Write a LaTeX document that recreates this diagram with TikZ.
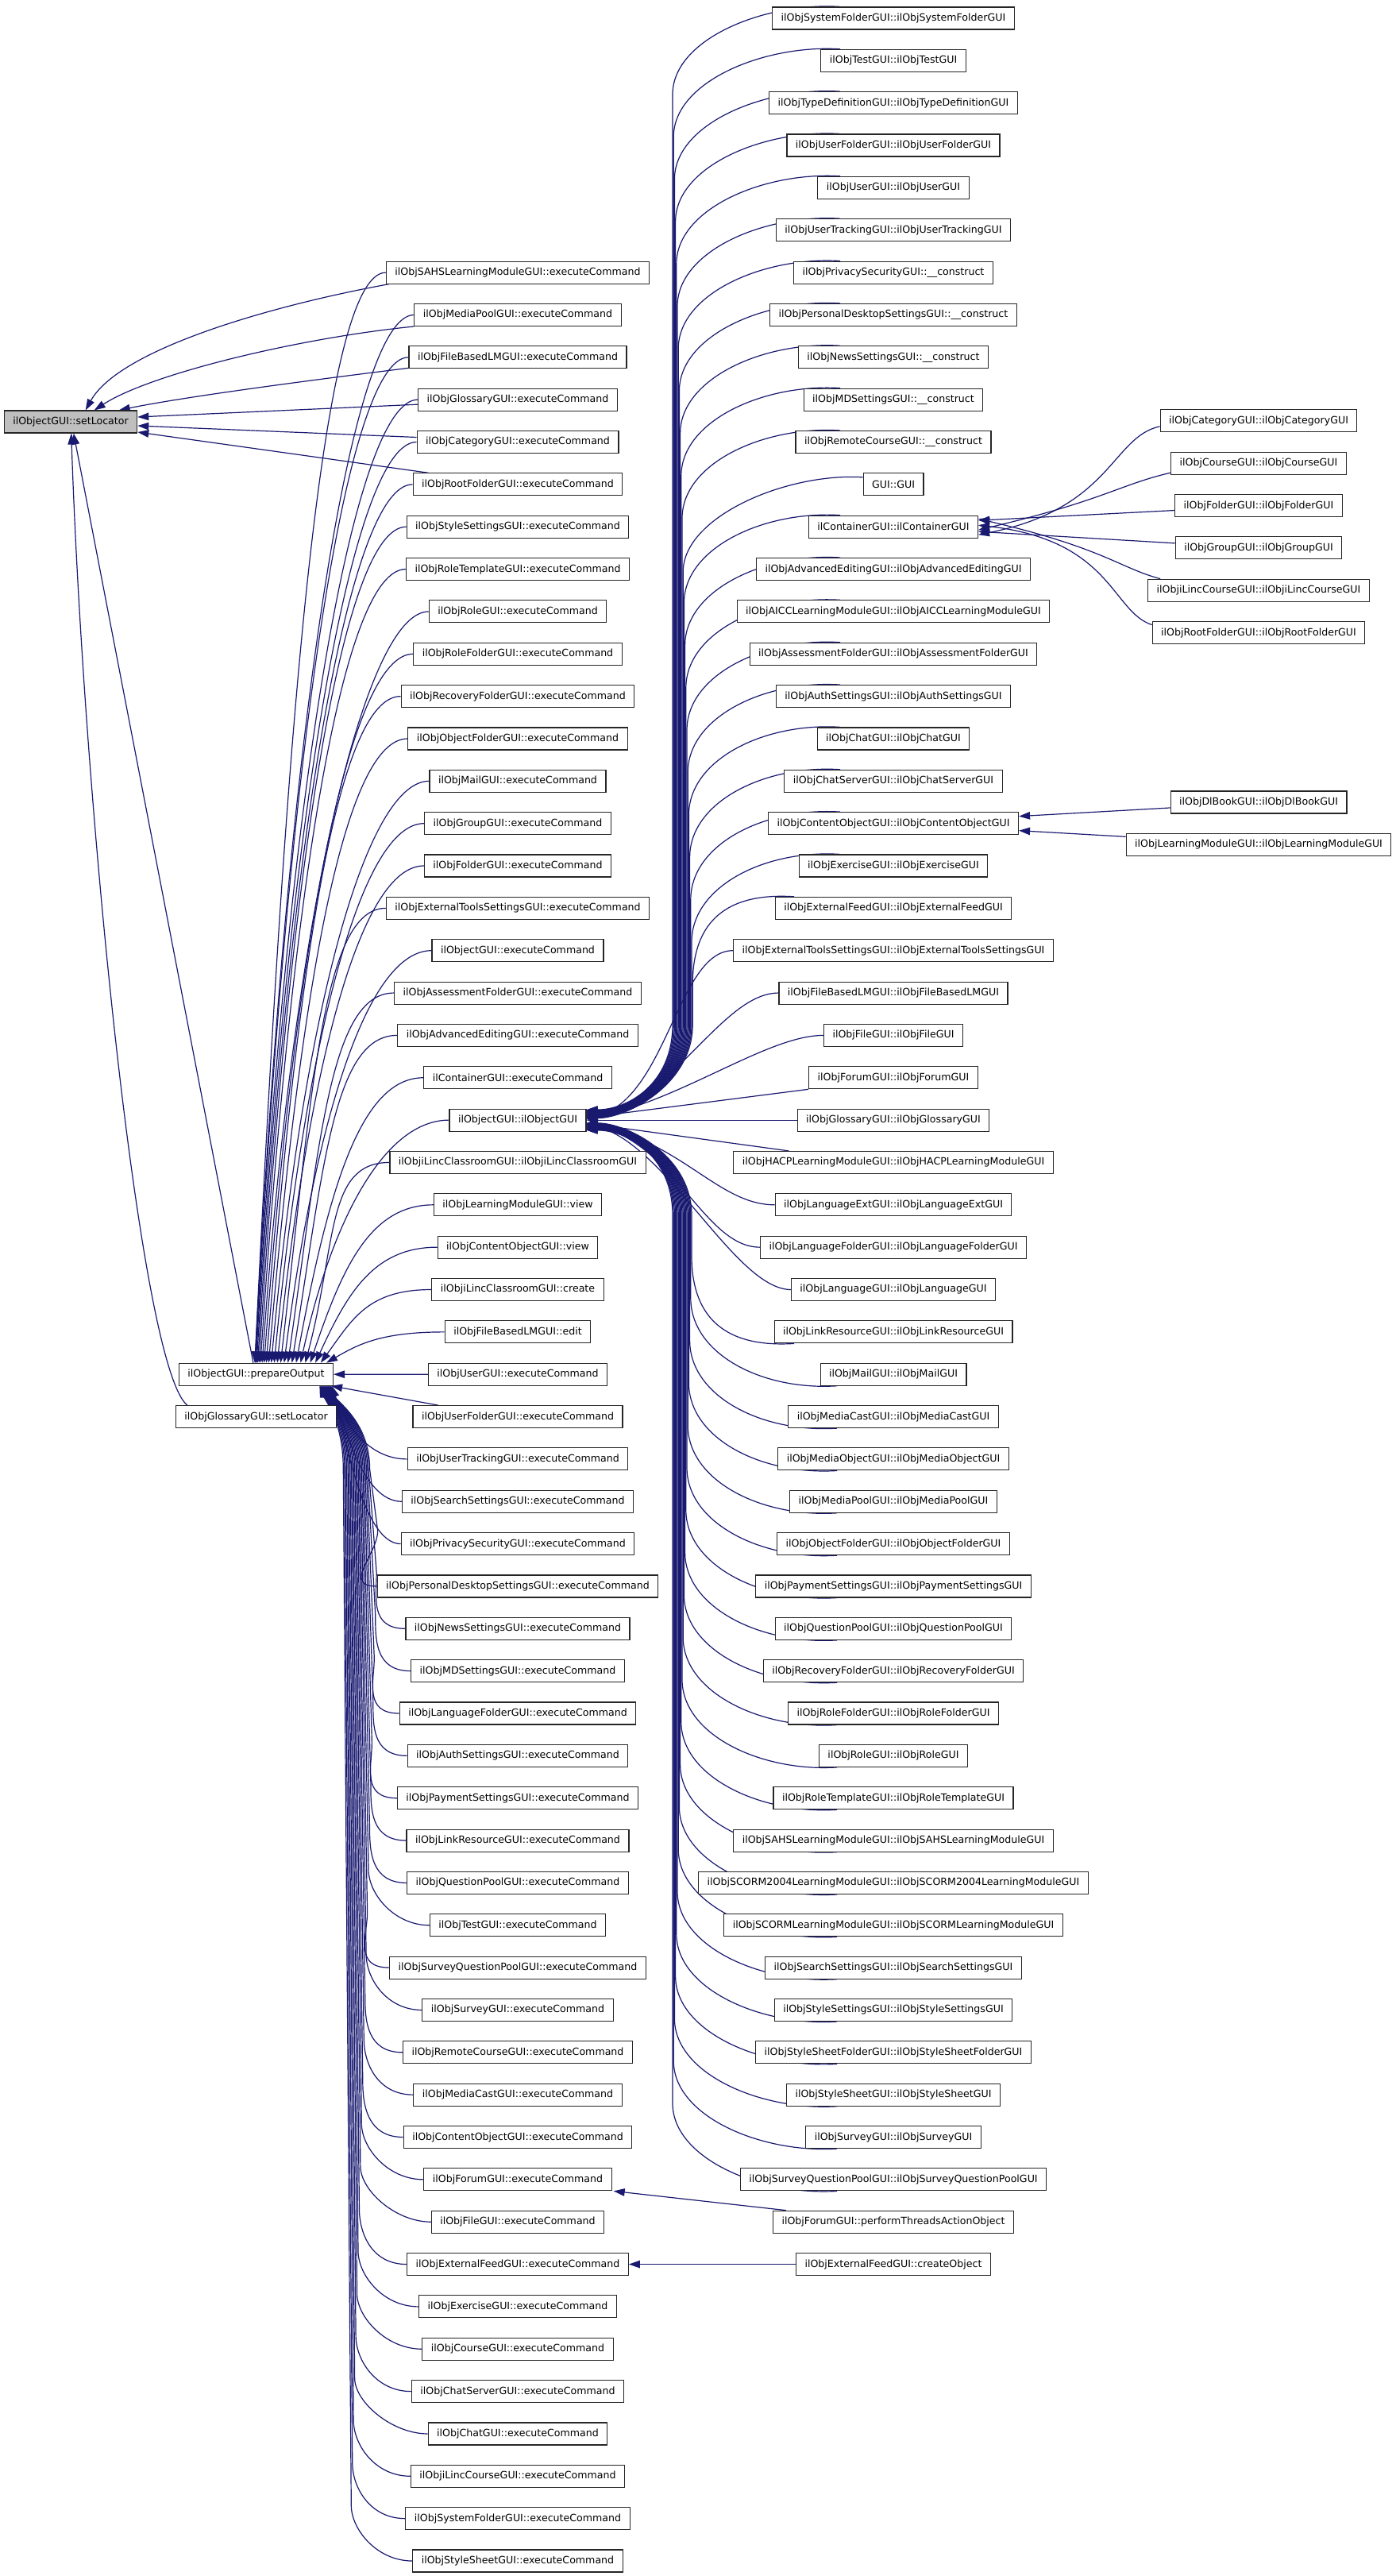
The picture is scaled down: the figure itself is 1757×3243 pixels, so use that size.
\documentclass[tikz,border=0pt]{standalone}
\usepackage{fontspec}
\newfontfamily\dvs{DejaVu Sans}
\usetikzlibrary{arrows.meta,calc}
\definecolor{edgeblue}{RGB}{25,25,112}
\pgfdeclarelayer{background}
\pgfsetlayers{background,main}
\begin{document}
\begin{tikzpicture}[x=1bp,y=-1bp,
 box/.style={draw=black!85,fill=white,line width=1.1bp,inner xsep=11bp,inner ysep=0bp,minimum height=28bp,font=\dvs\fontsize{12.6bp}{15bp}\selectfont},
 rootbox/.style={box,fill=black!25},
 edge/.style={draw=edgeblue,line width=1.2bp,-{Triangle[length=14bp,width=9.5bp]}}]
\useasboundingbox (0,0) rectangle (1757,3243);

% ---------- nodes ----------
\node[rootbox] (sl) at (89,531) {ilObjectGUI::setLocator};
\node[box] (po) at (322.5,1730.2) {ilObjectGUI::prepareOutput};
\node[box] (gsl) at (322.5,1783.55) {ilObjGlossaryGUI::setLocator};

\foreach \k/\t in {
 6/ilObjSAHSLearningModuleGUI::executeCommand,
 7/ilObjMediaPoolGUI::executeCommand,
 8/ilObjFileBasedLMGUI::executeCommand,
 9/ilObjGlossaryGUI::executeCommand,
 10/ilObjCategoryGUI::executeCommand,
 11/ilObjRootFolderGUI::executeCommand,
 12/ilObjStyleSettingsGUI::executeCommand,
 13/ilObjRoleTemplateGUI::executeCommand,
 14/ilObjRoleGUI::executeCommand,
 15/ilObjRoleFolderGUI::executeCommand,
 16/ilObjRecoveryFolderGUI::executeCommand,
 17/ilObjObjectFolderGUI::executeCommand,
 18/ilObjMailGUI::executeCommand,
 19/ilObjGroupGUI::executeCommand,
 20/ilObjFolderGUI::executeCommand,
 21/ilObjExternalToolsSettingsGUI::executeCommand,
 22/ilObjectGUI::executeCommand,
 23/ilObjAssessmentFolderGUI::executeCommand,
 24/ilObjAdvancedEditingGUI::executeCommand,
 25/ilContainerGUI::executeCommand,
 26/ilObjectGUI::ilObjectGUI,
 27/ilObjiLincClassroomGUI::ilObjiLincClassroomGUI,
 28/ilObjLearningModuleGUI::view,
 29/ilObjContentObjectGUI::view,
 30/ilObjiLincClassroomGUI::create,
 31/ilObjFileBasedLMGUI::edit,
 32/ilObjUserGUI::executeCommand,
 33/ilObjUserFolderGUI::executeCommand,
 34/ilObjUserTrackingGUI::executeCommand,
 35/ilObjSearchSettingsGUI::executeCommand,
 36/ilObjPrivacySecurityGUI::executeCommand,
 37/ilObjPersonalDesktopSettingsGUI::executeCommand,
 38/ilObjNewsSettingsGUI::executeCommand,
 39/ilObjMDSettingsGUI::executeCommand,
 40/ilObjLanguageFolderGUI::executeCommand,
 41/ilObjAuthSettingsGUI::executeCommand,
 42/ilObjPaymentSettingsGUI::executeCommand,
 43/ilObjLinkResourceGUI::executeCommand,
 44/ilObjQuestionPoolGUI::executeCommand,
 45/ilObjTestGUI::executeCommand,
 46/ilObjSurveyQuestionPoolGUI::executeCommand,
 47/ilObjSurveyGUI::executeCommand,
 48/ilObjRemoteCourseGUI::executeCommand,
 49/ilObjMediaCastGUI::executeCommand,
 50/ilObjContentObjectGUI::executeCommand,
 51/ilObjForumGUI::executeCommand,
 52/ilObjFileGUI::executeCommand,
 53/ilObjExternalFeedGUI::executeCommand,
 54/ilObjExerciseGUI::executeCommand,
 55/ilObjCourseGUI::executeCommand,
 56/ilObjChatServerGUI::executeCommand,
 57/ilObjChatGUI::executeCommand,
 58/ilObjiLincCourseGUI::executeCommand,
 59/ilObjSystemFolderGUI::executeCommand,
 60/ilObjStyleSheetGUI::executeCommand}
 \node[box] (c2-\k) at (652,{23+53.35*\k}) {\t};

\foreach \k/\t in {
 0/ilObjSystemFolderGUI::ilObjSystemFolderGUI,
 1/ilObjTestGUI::ilObjTestGUI,
 2/ilObjTypeDefinitionGUI::ilObjTypeDefinitionGUI,
 3/ilObjUserFolderGUI::ilObjUserFolderGUI,
 4/ilObjUserGUI::ilObjUserGUI,
 5/ilObjUserTrackingGUI::ilObjUserTrackingGUI,
 6/ilObjPrivacySecurityGUI::\_\_construct,
 7/ilObjPersonalDesktopSettingsGUI::\_\_construct,
 8/ilObjNewsSettingsGUI::\_\_construct,
 9/ilObjMDSettingsGUI::\_\_construct,
 10/ilObjRemoteCourseGUI::\_\_construct,
 11/GUI::GUI,
 12/ilContainerGUI::ilContainerGUI,
 13/ilObjAdvancedEditingGUI::ilObjAdvancedEditingGUI,
 14/ilObjAICCLearningModuleGUI::ilObjAICCLearningModuleGUI,
 15/ilObjAssessmentFolderGUI::ilObjAssessmentFolderGUI,
 16/ilObjAuthSettingsGUI::ilObjAuthSettingsGUI,
 17/ilObjChatGUI::ilObjChatGUI,
 18/ilObjChatServerGUI::ilObjChatServerGUI,
 19/ilObjContentObjectGUI::ilObjContentObjectGUI,
 20/ilObjExerciseGUI::ilObjExerciseGUI,
 21/ilObjExternalFeedGUI::ilObjExternalFeedGUI,
 22/ilObjExternalToolsSettingsGUI::ilObjExternalToolsSettingsGUI,
 23/ilObjFileBasedLMGUI::ilObjFileBasedLMGUI,
 24/ilObjFileGUI::ilObjFileGUI,
 25/ilObjForumGUI::ilObjForumGUI,
 26/ilObjGlossaryGUI::ilObjGlossaryGUI,
 27/ilObjHACPLearningModuleGUI::ilObjHACPLearningModuleGUI,
 28/ilObjLanguageExtGUI::ilObjLanguageExtGUI,
 29/ilObjLanguageFolderGUI::ilObjLanguageFolderGUI,
 30/ilObjLanguageGUI::ilObjLanguageGUI,
 31/ilObjLinkResourceGUI::ilObjLinkResourceGUI,
 32/ilObjMailGUI::ilObjMailGUI,
 33/ilObjMediaCastGUI::ilObjMediaCastGUI,
 34/ilObjMediaObjectGUI::ilObjMediaObjectGUI,
 35/ilObjMediaPoolGUI::ilObjMediaPoolGUI,
 36/ilObjObjectFolderGUI::ilObjObjectFolderGUI,
 37/ilObjPaymentSettingsGUI::ilObjPaymentSettingsGUI,
 38/ilObjQuestionPoolGUI::ilObjQuestionPoolGUI,
 39/ilObjRecoveryFolderGUI::ilObjRecoveryFolderGUI,
 40/ilObjRoleFolderGUI::ilObjRoleFolderGUI,
 41/ilObjRoleGUI::ilObjRoleGUI,
 42/ilObjRoleTemplateGUI::ilObjRoleTemplateGUI,
 43/ilObjSAHSLearningModuleGUI::ilObjSAHSLearningModuleGUI,
 44/ilObjSCORM2004LearningModuleGUI::ilObjSCORM2004LearningModuleGUI,
 45/ilObjSCORMLearningModuleGUI::ilObjSCORMLearningModuleGUI,
 46/ilObjSearchSettingsGUI::ilObjSearchSettingsGUI,
 47/ilObjStyleSettingsGUI::ilObjStyleSettingsGUI,
 48/ilObjStyleSheetFolderGUI::ilObjStyleSheetFolderGUI,
 49/ilObjStyleSheetGUI::ilObjStyleSheetGUI,
 50/ilObjSurveyGUI::ilObjSurveyGUI,
 51/ilObjSurveyQuestionPoolGUI::ilObjSurveyQuestionPoolGUI,
 52/ilObjForumGUI::performThreadsActionObject,
 53/ilObjExternalFeedGUI::createObject}
 \node[box] (c3-\k) at (1125,{23+53.35*\k}) {\t};

\foreach \n/\k/\t in {
 a/9.5/ilObjCategoryGUI::ilObjCategoryGUI,
 b/10.5/ilObjCourseGUI::ilObjCourseGUI,
 c/11.5/ilObjFolderGUI::ilObjFolderGUI,
 d/12.5/ilObjGroupGUI::ilObjGroupGUI,
 e/13.5/ilObjiLincCourseGUI::ilObjiLincCourseGUI,
 f/14.5/ilObjRootFolderGUI::ilObjRootFolderGUI,
 g/18.5/ilObjDlBookGUI::ilObjDlBookGUI,
 h/19.5/ilObjLearningModuleGUI::ilObjLearningModuleGUI}
 \node[box] (c4-\n) at (1585,{23+53.35*\k}) {\t};

% ---------- edges ----------
\begin{pgfonlayer}{background}
% callers of setLocator
\draw[edge] ($(c2-6.south west)+(4,0)$) .. controls (340,385) and (150,440) .. ($(sl.north west)+(103,0)$);
\draw[edge] (c2-7.south west) .. controls (380,425) and (190,470) .. ($(sl.north west)+(114,0)$);
\draw[edge] ($(c2-8.south west)+(0,-1)$) .. controls (380,480) and (230,500) .. ($(sl.north west)+(145,0)$);
\draw[edge] ($(c2-9.west)+(0,6)$) -- ($(sl.east)+(0,-6)$);
\draw[edge] ($(c2-10.west)+(0,-6)$) -- ($(sl.east)+(0,5)$);
\draw[edge] ($(c2-11.north west)+(20,0)$) -- ($(sl.east)+(0,13)$);
\draw[edge] ($(po.north west)+(94,0)$) -- ($(sl.south west)+(88,0)$);
\draw[edge] ($(gsl.north west)+(15,0)$) .. controls (175,1720) and (105,1000) .. ($(sl.south west)+(85,0)$);

% callers of prepareOutput (upper fan)
\foreach \k in {6,...,31}{
 \pgfmathsetmacro{\yk}{23+53.35*\k}
 \pgfmathsetmacro{\dx}{96+90*((\k-6)/25)^2}
 \pgfmathsetmacro{\cx}{225+\dx+40}
 \pgfmathsetmacro{\cy}{\yk+0.4*(1716-\yk)}
 \draw[edge] (c2-\k.west) .. controls +(-80,0) and (\cx,\cy) .. ($(po.north west)+(\dx,0)$);
}
\draw[edge] (c2-32) -- (po);
\draw[edge] ($(c2-33.north west)+(32,0)$) -- ($(po.south east)+(-3,0)$);
% lower fan
\foreach \k in {34,...,60}{
 \pgfmathsetmacro{\yk}{23+53.35*\k}
 \pgfmathsetmacro{\dx}{193-(\k-34)*0.6}
 \pgfmathsetmacro{\xv}{470-(\k-34)*1.45}
 \pgfmathsetmacro{\xa}{\xv+10}
 \pgfmathsetmacro{\ya}{\yk-70}
 \pgfmathsetmacro{\cx}{225+\dx+8}
 \pgfmathsetmacro{\cxx}{225+\dx+15}
 \ifnum\k<37
  \draw[edge] (c2-\k.west) .. controls +(-50,0) and (\cxx,1790) .. ($(po.south west)+(\dx,0)$);
 \else
  \draw[edge] (c2-\k.west) .. controls +(-45,0) and +(0,30) .. (\xa,\ya) -- (\xv,1850) .. controls (\xv,1790) and (\cx,1765) .. ($(po.south west)+(\dx,0)$);
 \fi
}

% callers of ilObjectGUI::ilObjectGUI (upper rows, from box top)
\foreach \k in {0,1,2,3,4,5,6,7,8,9,10,12,13,14,15,16,17,18,19,20,21}{
 \pgfmathsetmacro{\xv}{847+\k*1.2}
 \pgfmathsetmacro{\yt}{23+53.35*\k+96}
 \pgfmathsetmacro{\dy}{(\k-26)*0.5}
 \pgfmathsetmacro{\ty}{1410.1+\dy}
 \ifnum\k=21 \def\off{-125}\else\def\off{-67}\fi
 \draw[edge] ($(c3-\k.north)+(\off,0)$) .. controls +(-95,-6) and +(0,-70) .. (\xv,\yt) -- (\xv,1290) .. controls (\xv,1365) and (790,\ty) .. ($(c2-26.east)+(0,\dy)$);
}
\draw[edge] ($(c3-11.west)+(0,-9)$) .. controls +(-95,-6) and +(0,-70) .. (860.2,720) -- (860.2,1290) .. controls (860.2,1365) and (790,1402.6) .. ($(c2-26.east)+(0,-7.5)$);
% rows attached at their left side
\foreach \k/\xc in {22/840,23/850,24/860}{
 \pgfmathsetmacro{\dy}{(\k-26)*0.5}
 \pgfmathsetmacro{\cy}{1410.1+\dy-25}
 \draw[edge] (c3-\k.west) .. controls +(-70,0) and (\xc,\cy) .. ($(c2-26.east)+(0,\dy)$);
}
\draw[edge] (c3-25.south west) -- ($(c2-26.east)+(0,-3)$);
\draw[edge] (c3-26) -- (c2-26);
\draw[edge] ($(c3-27.north west)+(70,0)$) -- ($(c2-26.east)+(0,4)$);
\foreach \k/\xc in {28/860,29/850,30/840}{
 \pgfmathsetmacro{\dy}{(\k-26)*0.5+3}
 \pgfmathsetmacro{\cy}{1410.1+\dy+25}
 \draw[edge] (c3-\k.west) .. controls +(-70,0) and (\xc,\cy) .. ($(c2-26.east)+(0,\dy)$);
}
% lower rows, from box bottom
\foreach \k in {31,...,51}{
 \pgfmathsetmacro{\xv}{847+(51-\k)*1.2}
 \pgfmathsetmacro{\yb}{23+53.35*\k-96}
 \pgfmathsetmacro{\dy}{(\k-26)*0.45+1.5}
 \pgfmathsetmacro{\ty}{1410.1+\dy}
 \ifnum\k=31 \def\off{-125}\else\def\off{-71}\fi
 \draw[edge] ($(c3-\k.south)+(\off,0)$) .. controls +(-95,6) and +(0,70) .. (\xv,\yb) -- (\xv,1530) .. controls (\xv,1455) and (790,\ty) .. ($(c2-26.east)+(0,\dy)$);
}

% callers of ilContainerGUI::ilContainerGUI
\draw[edge] ($(c4-a.west)+(0,7)$) .. controls (1400,550) and (1400,640) .. ($(c3-12.east)+(0,10)$);
\draw[edge] ($(c4-b.west)+(0,12)$) .. controls (1410,610) and (1390,630) .. ($(c3-12.east)+(0,4)$);
\draw[edge] ($(c4-c.west)+(0,6)$) -- ($(c3-12.east)+(0,-8)$);
\draw[edge] ($(c4-d.west)+(0,-6)$) -- ($(c3-12.east)+(0,6)$);
\draw[edge] ($(c4-e.north west)+(16,0)$) .. controls (1410,715) and (1390,690) .. ($(c3-12.east)+(0,-10)$);
\draw[edge] ($(c4-f.west)+(0,-10)$) .. controls (1400,770) and (1400,680) .. ($(c3-12.east)+(0,-2)$);

% callers of ilObjContentObjectGUI::ilObjContentObjectGUI
\draw[edge] ($(c4-g.west)+(0,7)$) -- ($(c3-19.east)+(0,-9)$);
\draw[edge] ($(c4-h.west)+(0,-10)$) -- ($(c3-19.east)+(0,9)$);

% others
\draw[edge] ($(c3-52.north west)+(17,0)$) -- ($(c2-51.south east)+(2,0)$);
\draw[edge] (c3-53) -- (c2-53);
\end{pgfonlayer}
\end{tikzpicture}
\end{document}
